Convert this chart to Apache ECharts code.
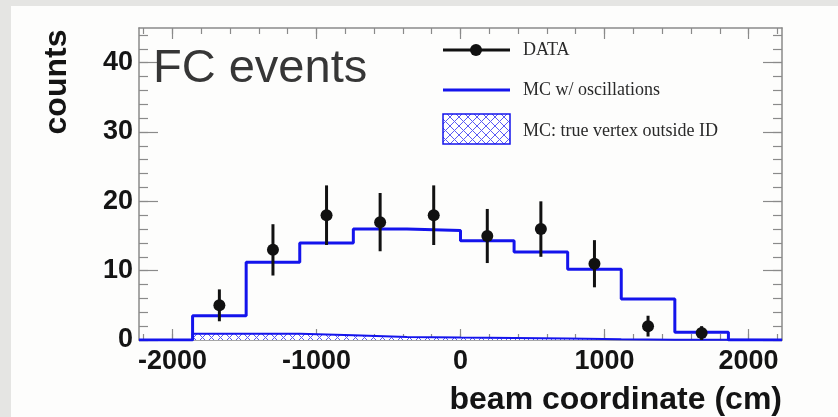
<!DOCTYPE html>
<html>
<head>
<meta charset="utf-8">
<title>FC events – beam coordinate</title>
<script src="https://cdn.jsdelivr.net/npm/echarts@6/dist/echarts.min.js"></script>
<style>
  html, body { margin: 0; padding: 0; background: #e5e5e3; }
  #chart { width: 838px; height: 417px; }
</style>
</head>
<body>
<div id="chart"></div>
<script>
// Histogram bin edges (cm along the beam axis)
const binEdges = [-2232, -1860, -1488, -1116, -744, -372, 0, 372, 744, 1116, 1488, 1860, 2232];
// MC expectation with oscillations, one value per bin
const mcOscCounts = [0, 3.5, 11.2, 14.0, 16.0, 15.8, 14.3, 12.7, 10.2, 5.9, 1.1, 0];
// MC events whose true vertex lies outside the ID
const mcOutsideCounts = [0, 0.9, 0.9, 0.7, 0.45, 0.35, 0.3, 0.2, 0.1, 0.05, 0.05, 0];
// Observed data at bin centres, with statistical errors
const dataX = [-1674, -1302, -930, -558, -186, 186, 558, 930, 1302, 1674];
const dataCounts = [5, 13, 18, 17, 18, 15, 16, 11, 2, 1];
const dataErrors = [2.3, 3.7, 4.3, 4.2, 4.3, 3.9, 4.0, 3.4, 1.5, 1.0];
// Axis tick values
const xTickLabels = [-2000, -1000, 0, 1000, 2000];
const xMinorTicks = [-2200, -2000, -1800, -1600, -1400, -1200, -1000, -800, -600, -400, -200, 0,
                     200, 400, 600, 800, 1000, 1200, 1400, 1600, 1800, 2000, 2200];
const yTickLabels = [0, 10, 20, 30, 40];
const yMinorTicks = [0, 2, 4, 6, 8, 10, 12, 14, 16, 18, 20, 22, 24, 26, 28, 30, 32, 34, 36, 38, 40, 42, 44];

const BLUE = '#1414ec';
const FRAME = '#8a8a8a';
const LABEL_FONT = '"Liberation Sans", Arial, sans-serif';
const SERIF_FONT = '"Liberation Serif", "Times New Roman", serif';

// Cross-hatch fill used for the "outside ID" histogram
function makeHatch() {
  const c = document.createElement('canvas');
  c.width = 9; c.height = 9;
  const g = c.getContext('2d');
  g.fillStyle = '#ffffff';
  g.fillRect(0, 0, 9, 9);
  g.strokeStyle = '#5a5af5';
  g.lineWidth = 1;
  g.beginPath();
  g.moveTo(0, 0); g.lineTo(9, 9);
  g.moveTo(9, 0); g.lineTo(0, 9);
  g.stroke();
  return c;
}
const hatch = { image: makeHatch(), repeat: 'repeat' };

// Step-histogram points: left edge of every bin, plus the closing right edge
function stepPoints(values) {
  const pts = values.map((v, i) => [binEdges[i], v]);
  pts.push([binEdges[binEdges.length - 1], values[values.length - 1]]);
  return pts;
}

const xMin = binEdges[0], xMax = binEdges[binEdges.length - 1];
const yMin = 0, yMax = 45;

const labelStyle = { fontFamily: LABEL_FONT, fontWeight: 'bold', fontSize: 27, color: '#141414' };

function axisDef(position, min, max, ticks, tickLen, labels, labelMargin, withLine) {
  return {
    type: 'value', position: position, min: min, max: max,
    splitLine: { show: false },
    axisLine: { show: withLine, onZero: false, lineStyle: { color: FRAME, width: 1.5 } },
    axisTick: { show: true, inside: true, length: tickLen, customValues: ticks,
                lineStyle: { color: FRAME, width: 1.2 } },
    axisLabel: labels
      ? Object.assign({ show: true, margin: labelMargin, customValues: labels,
                        formatter: v => String(v) }, labelStyle)
      : { show: false }
  };
}

const xAxes = [
  axisDef('bottom', xMin, xMax, xTickLabels, 11, xTickLabels, 8, true),
  axisDef('bottom', xMin, xMax, xMinorTicks, 6, null, 0, false),
  axisDef('top', xMin, xMax, xTickLabels, 11, null, 0, true),
  axisDef('top', xMin, xMax, xMinorTicks, 6, null, 0, false)
];
xAxes[0].name = 'beam coordinate (cm)';
xAxes[0].nameLocation = 'end';
xAxes[0].nameGap = 0;
xAxes[0].nameTextStyle = {
  fontFamily: LABEL_FONT, fontWeight: 'bold', fontSize: 32, color: '#141414',
  align: 'right', verticalAlign: 'top', padding: [44, 0, 0, 0]
};

const yAxes = [
  axisDef('left', yMin, yMax, yTickLabels, 19, yTickLabels, 6, true),
  axisDef('left', yMin, yMax, yMinorTicks, 9, null, 0, false),
  axisDef('right', yMin, yMax, yTickLabels, 19, null, 0, true),
  axisDef('right', yMin, yMax, yMinorTicks, 9, null, 0, false)
];

const chart = echarts.init(document.getElementById('chart'), null, { renderer: 'canvas' });

chart.setOption({
  backgroundColor: '#e5e5e3',
  animation: false,
  grid: { left: 139, right: 56, top: 28, bottom: 77, containLabel: false },
  xAxis: xAxes,
  yAxis: yAxes,
  graphic: [
    // white page panel behind the plot
    { type: 'rect', z: -10, silent: true, shape: { x: 11, y: 6, width: 827, height: 411 },
      style: { fill: '#fdfdfc' } },
    // y-axis title
    { type: 'text', x: 57, y: 82, rotation: Math.PI / 2, z: 10, silent: true,
      style: { text: 'counts', fontFamily: LABEL_FONT, fontWeight: 'bold', fontSize: 32,
               fill: '#141414', align: 'center', verticalAlign: 'middle' } },
    // panel caption
    { type: 'text', x: 153, y: 69, z: 10, silent: true,
      style: { text: 'FC events', fontFamily: LABEL_FONT, fontSize: 47, fill: '#363636',
               align: 'left', verticalAlign: 'middle' } },
    // legend
    { type: 'line', z: 10, silent: true, shape: { x1: 443, y1: 50, x2: 510, y2: 50 },
      style: { stroke: '#111', lineWidth: 3 } },
    { type: 'circle', z: 11, silent: true, shape: { cx: 476, cy: 50, r: 6 },
      style: { fill: '#111' } },
    { type: 'text', x: 523, y: 50, z: 10, silent: true,
      style: { text: 'DATA', fontFamily: SERIF_FONT, fontSize: 18, fill: '#2a2a2a',
               align: 'left', verticalAlign: 'middle' } },
    { type: 'line', z: 10, silent: true, shape: { x1: 443, y1: 90, x2: 510, y2: 90 },
      style: { stroke: BLUE, lineWidth: 3 } },
    { type: 'text', x: 523, y: 90, z: 10, silent: true,
      style: { text: 'MC w/ oscillations', fontFamily: SERIF_FONT, fontSize: 18, fill: '#2a2a2a',
               align: 'left', verticalAlign: 'middle' } },
    { type: 'rect', z: 10, silent: true, shape: { x: 443, y: 114, width: 67, height: 30 },
      style: { fill: hatch, stroke: BLUE, lineWidth: 1.5 } },
    { type: 'text', x: 523, y: 131, z: 10, silent: true,
      style: { text: 'MC: true vertex outside ID', fontFamily: SERIF_FONT, fontSize: 18, fill: '#2a2a2a',
               align: 'left', verticalAlign: 'middle' } }
  ],
  series: [
    {
      name: 'MC: true vertex outside ID',
      type: 'line', step: 'end', xAxisIndex: 0, yAxisIndex: 0,
      data: stepPoints(mcOutsideCounts),
      symbol: 'none',
      lineStyle: { color: BLUE, width: 2 },
      areaStyle: { color: hatch, opacity: 1, origin: 'start' },
      z: 2
    },
    {
      name: 'MC w/ oscillations',
      type: 'line', step: 'end', xAxisIndex: 0, yAxisIndex: 0,
      data: stepPoints(mcOscCounts),
      symbol: 'none',
      lineStyle: { color: BLUE, width: 3 },
      z: 3
    },
    {
      name: 'DATA',
      type: 'custom', xAxisIndex: 0, yAxisIndex: 0,
      data: dataX.map((x, i) => [x, dataCounts[i], dataErrors[i]]),
      encode: { x: 0, y: 1 },
      z: 4,
      renderItem: function (params, api) {
        const x = api.value(0), y = api.value(1), e = api.value(2);
        const c = api.coord([x, y]);
        const lo = api.coord([x, y - e]);
        const hi = api.coord([x, y + e]);
        return {
          type: 'group',
          children: [
            { type: 'line', shape: { x1: c[0], y1: lo[1], x2: c[0], y2: hi[1] },
              style: { stroke: '#111', lineWidth: 3 } },
            { type: 'circle', shape: { cx: c[0], cy: c[1], r: 6 },
              style: { fill: '#111' } }
          ]
        };
      }
    }
  ]
});
</script>
</body>
</html>
